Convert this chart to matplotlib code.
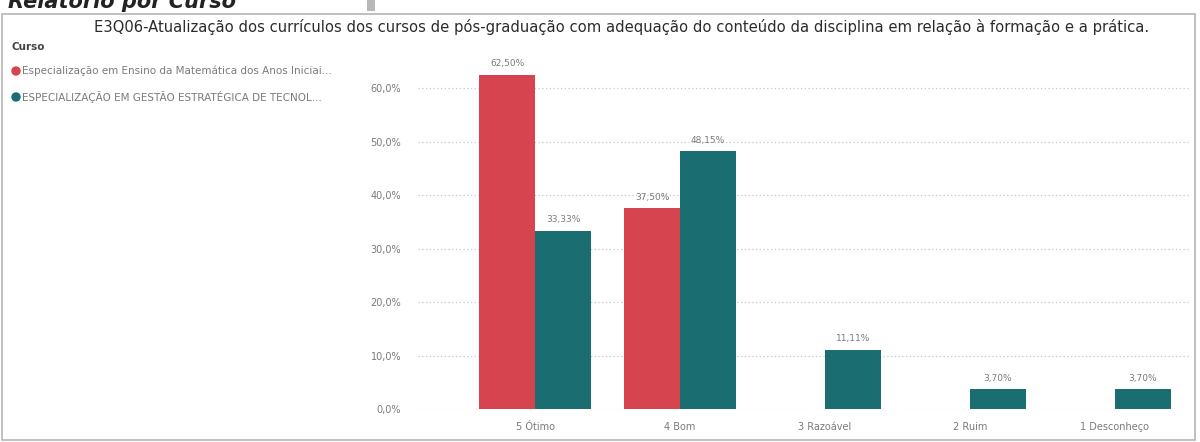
import matplotlib.pyplot as plt
import numpy as np
from matplotlib.patches import Rectangle, Ellipse

# data
categorias = ["5 Ótimo", "4 Bom", "3 Razoável", "2 Ruim", "1 Desconheço"]
ensino_mat = [62.50, 37.50, np.nan, np.nan, np.nan]
gestao_tec = [33.33, 48.15, 11.11, 3.70, 3.70]
cursos = ["Especialização em Ensino da Matemática dos Anos Iniciai...",
          "ESPECIALIZAÇÃO EM GESTÃO ESTRATÉGICA DE TECNOL..."]
titulo = "E3Q06-Atualização dos currículos dos cursos de pós-graduação com adequação do conteúdo da disciplina em relação à formação e a prática."

cores = ["#D6444F", "#1A6E72"]
cinza = "#7a7a7a"

def fmt(v, casas):
    return f"{v:.{casas}f}".replace(".", ",") + "%"

fig = plt.figure(figsize=(12, 4.42), dpi=100)
W, H = 1200, 442

# panel frame
fig.patches.append(Rectangle((2 / W, 1 - 440 / H), 1193 / W, 426 / H, transform=fig.transFigure,
                             fill=False, edgecolor="#b5b5b5", linewidth=1.2))
fig.patches.append(Rectangle((367 / W, 1 - 11 / H), 8 / W, 11 / H, transform=fig.transFigure,
                             facecolor="#b8b8b8", edgecolor="none"))
fig.text(8 / W, 1 - 1 / H, "Relatório por Curso", fontsize=15, fontweight="bold", style="italic",
         color="#222222", va="center")

fig.text(622 / W, 1 - 27 / H, titulo, fontsize=10.6, color="#2b2b2b", ha="center", va="center")

# legend
fig.text(12 / W, 1 - 47 / H, "Curso", fontsize=7.5, color="#444444", fontweight="bold", va="center")
for i, nome in enumerate(cursos):
    y = 1 - (71 + 26 * i) / H
    fig.text(22 / W, y, nome, fontsize=7.5, color=cinza, va="center")
    fig.patches.append(Ellipse((16 / W, y), 8 / W, 8 / H, transform=fig.transFigure, color=cores[i]))

ax = fig.add_axes([418 / W, 1 - 409 / H, 772 / W, 353 / H])
x = np.arange(len(categorias))
w = 0.386
ax.bar(x - w / 2, ensino_mat, w, color=cores[0])
ax.bar(x + w / 2, gestao_tec, w, color=cores[1])

for xi, v in zip(x, ensino_mat):
    if not np.isnan(v):
        ax.text(xi - w / 2, v + 1.2, fmt(v, 2), ha="center", va="bottom", fontsize=6.5, color=cinza)
for xi, v in zip(x, gestao_tec):
    ax.text(xi + w / 2, v + 1.2, fmt(v, 2), ha="center", va="bottom", fontsize=6.5, color=cinza)

ax.set_xlim(-0.81, 4.52)
ax.set_ylim(0, 66)
ax.set_yticks(np.arange(0, 61, 10))
ax.set_yticklabels([fmt(t, 1) for t in range(0, 61, 10)])
ax.set_xticks(x)
ax.set_xticklabels(categorias)
ax.tick_params(axis="x", length=0, labelsize=7, labelcolor=cinza, pad=9)
ax.tick_params(axis="y", length=0, labelsize=7, labelcolor=cinza, pad=12)
ax.grid(axis="y", color="#c8c8c8", linestyle=(0, (1, 2)), linewidth=0.9)
ax.set_axisbelow(True)
for s in ax.spines.values():
    s.set_visible(False)

fig.savefig("out.png", dpi=100)
